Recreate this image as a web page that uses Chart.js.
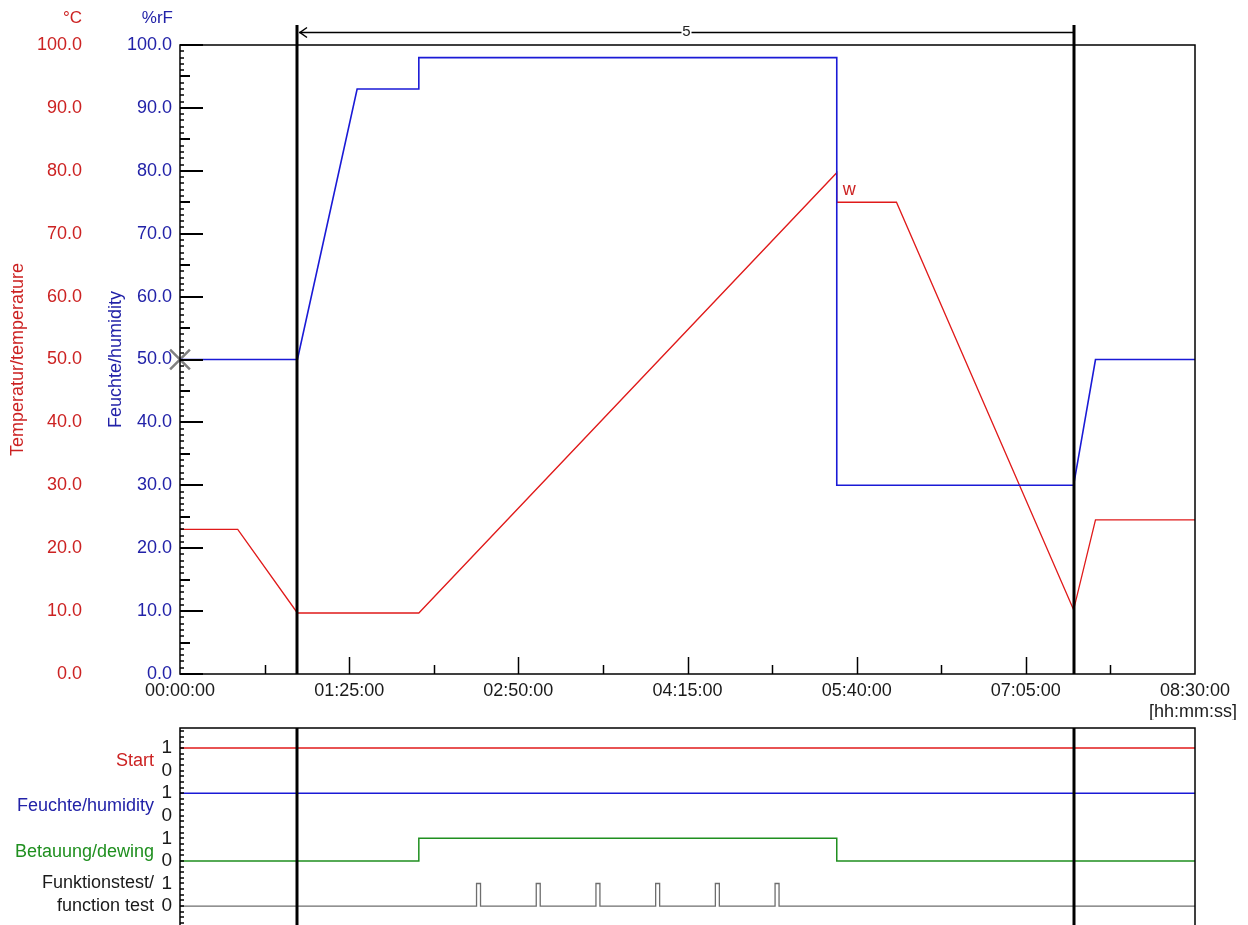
<!DOCTYPE html>
<html>
<head>
<meta charset="utf-8">
<script src="https://cdn.jsdelivr.net/npm/chart.js@4.4.0/dist/chart.umd.min.js"></script>
<style>
  body { margin: 0; background: #fff; }
  #wrap { position: relative; width: 1248px; height: 925px; overflow: hidden; }
  canvas { position: absolute; left: 0; }
  #top { top: 0; }
  #bottom { top: 720px; }
</style>
</head>
<body>
<div id="wrap">
  <canvas id="top" width="1248" height="720"></canvas>
  <canvas id="bottom" width="1248" height="205"></canvas>
</div>
<script>
'use strict';

// time axis, minutes
const T_MAX = 510;
const T_STEP = 85;
const markerTimes = [59, 449];
const spanLabel = '5';

// analog curves
const humTimes  = [0, 59, 89, 120, 120, 330, 330, 449, 460, 510];
const humValues = [50, 50, 93, 93, 98, 98, 30, 30, 50, 50];
const tempTimes  = [0, 29, 59, 120, 330, 330, 360, 449, 460, 510];
const tempValues = [23, 23, 9.7, 9.7, 79.7, 75, 75, 10.2, 24.5, 24.5];
const setpointMark = [{ x: 0, y: 50 }];
const wLabel = { t: 333, v: 77, text: 'w' };

// digital signals (state changes)
const signalNames = ['Start', 'Feuchte/humidity', 'Betauung/dewing', ['Funktionstest/', 'function test']];
const signalLevels = [0, 1, 2, 3, 4, 5, 6, 7];
const startTimes = [0, 510];
const startStates = [1, 1];
const humSigTimes = [0, 510];
const humSigStates = [1, 1];
const dewTimes = [0, 120, 330, 510];
const dewStates = [0, 1, 0, 0];
const testTimes = [0, 149, 151, 179, 181, 209, 211, 239, 241, 269, 271, 299, 301, 510];
const testStates = [0, 1, 0, 1, 0, 1, 0, 1, 0, 1, 0, 1, 0, 0];

const RED = '#e01a1a', RED_TXT = '#cc2222';
const BLUE = '#1a1ad6', BLUE_TXT = '#2222a8';
const GREEN = '#1f8f1f';
const GRAY = '#6e6e6e';
const FONT = '"Liberation Sans", Arial, sans-serif';

Chart.defaults.font.family = FONT;
Chart.defaults.font.size = 18;
Chart.defaults.color = '#1a1a1a';

const pts = (ts, vs) => ts.map((t, i) => ({ x: t, y: vs[i] }));
function stepPts(ts, ss, base) {
  const out = [];
  ts.forEach((t, i) => {
    if (i > 0 && ss[i] !== ss[i - 1]) out.push({ x: t, y: base + ss[i - 1] });
    out.push({ x: t, y: base + ss[i] });
  });
  return out;
}
function hms(m) {
  const h = Math.floor(m / 60), mm = Math.round(m % 60);
  return `${String(h).padStart(2, '0')}:${String(mm).padStart(2, '0')}:00`;
}
function line(ctx, x1, y1, x2, y2) {
  ctx.beginPath(); ctx.moveTo(x1, y1); ctx.lineTo(x2, y2); ctx.stroke();
}
function markerLines(chart, top, bottom) {
  const { ctx, scales: { x } } = chart;
  ctx.strokeStyle = '#000'; ctx.lineWidth = 3;
  markerTimes.forEach((t) => {
    const px = Math.round(x.getPixelForValue(t));
    line(ctx, px, top, px, bottom);
  });
}

const decorTop = {
  id: 'decorTop',
  afterDraw(chart) {
    const { ctx, chartArea: a, scales: { x, y } } = chart;
    ctx.save();
    ctx.strokeStyle = '#000';
    ctx.lineWidth = 1.5;
    ctx.strokeRect(a.left, a.top, a.right - a.left, a.bottom - a.top);

    for (let v = 0; v <= 100; v++) {
      const py = Math.round(y.getPixelForValue(v));
      const len = v % 10 === 0 ? 23 : v % 5 === 0 ? 10 : 4;
      ctx.lineWidth = v % 5 === 0 ? 2 : 1.5;
      line(ctx, a.left, py, a.left + len, py);
    }
    ctx.lineWidth = 1.5;
    for (let m = T_STEP / 2; m < T_MAX; m += T_STEP / 2) {
      const px = Math.round(x.getPixelForValue(m)) + 0.5;
      const len = m % T_STEP === 0 ? 17 : 9;
      line(ctx, px, a.bottom, px, a.bottom - len);
    }

    markerLines(chart, 25, a.bottom);

    // span arrow
    const x1 = Math.round(x.getPixelForValue(markerTimes[0])) + 2;
    const x2 = Math.round(x.getPixelForValue(markerTimes[1]));
    ctx.lineWidth = 1.5;
    line(ctx, x1, 32.5, x2, 32.5);
    ctx.beginPath();
    ctx.moveTo(x1 + 8, 27.5); ctx.lineTo(x1 + 1, 32.5); ctx.lineTo(x1 + 8, 37.5);
    ctx.stroke();
    const xm = (x1 + x2) / 2;
    ctx.font = `15px ${FONT}`;
    ctx.fillStyle = '#fff';
    ctx.fillRect(xm - 5, 25, 10, 15);
    ctx.fillStyle = '#222';
    ctx.textAlign = 'center'; ctx.textBaseline = 'middle';
    ctx.fillText(spanLabel, xm, 32);

    // units
    ctx.font = `17px ${FONT}`;
    ctx.textAlign = 'right';
    ctx.fillStyle = RED_TXT; ctx.fillText('°C', 82, 18);
    ctx.fillStyle = BLUE_TXT; ctx.fillText('%rF', 173, 18);

    // setpoint tag
    ctx.textAlign = 'left';
    ctx.fillStyle = RED_TXT;
    ctx.font = `18px ${FONT}`;
    ctx.fillText(wLabel.text, x.getPixelForValue(wLabel.t), y.getPixelForValue(wLabel.v));

    ctx.fillStyle = '#1a1a1a';
    ctx.textAlign = 'right';
    ctx.fillText('[hh:mm:ss]', 1237, 712);
    ctx.restore();
  }
};

const decorBottom = {
  id: 'decorBottom',
  afterDraw(chart) {
    const { ctx, chartArea: a, scales: { y } } = chart;
    ctx.save();
    ctx.strokeStyle = '#000';
    ctx.lineWidth = 1.5;
    ctx.strokeRect(a.left, a.top, a.right - a.left, a.bottom - a.top + 10);
    for (let v = -0.75; v < y.max; v += 0.25) {
      const py = Math.round(y.getPixelForValue(v));
      line(ctx, a.left, py, a.left + 4, py);
    }
    markerLines(chart, a.top, a.bottom);

    const colors = [RED_TXT, BLUE_TXT, GREEN, '#1a1a1a'];
    ctx.font = `18px ${FONT}`;
    ctx.textAlign = 'right'; ctx.textBaseline = 'middle';
    signalNames.forEach((name, i) => {
      const base = (signalNames.length - 1 - i) * 2;
      ctx.fillStyle = colors[i];
      if (Array.isArray(name)) {
        ctx.fillText(name[0], 154, y.getPixelForValue(base + 1));
        ctx.fillText(name[1], 154, y.getPixelForValue(base));
      } else {
        ctx.fillText(name, 154, y.getPixelForValue(base + 0.5) + 2);
      }
    });
    ctx.restore();
  }
};

new Chart(document.getElementById('top'), {
  type: 'line',
  data: {
    datasets: [
      { data: pts(humTimes, humValues), yAxisID: 'y', borderColor: BLUE, borderWidth: 1.6, pointRadius: 0 },
      { data: pts(tempTimes, tempValues), yAxisID: 'y2', borderColor: RED, borderWidth: 1.3, pointRadius: 0 },
      { data: setpointMark, yAxisID: 'y', showLine: false, pointStyle: 'crossRot', pointRadius: 14,
        borderColor: '#808080', borderWidth: 2.5, clip: false }
    ]
  },
  options: {
    responsive: false, animation: false, devicePixelRatio: 1,
    layout: { padding: { top: 45, right: 53, left: 0, bottom: 0 } },
    plugins: { legend: { display: false }, tooltip: { enabled: false } },
    scales: {
      x: {
        type: 'linear', min: 0, max: T_MAX,
        ticks: { stepSize: T_STEP, padding: 6, color: '#1a1a1a', maxRotation: 0, callback: (v) => hms(v) },
        grid: { display: false, drawTicks: false }, border: { display: false },
        afterFit: (s) => { s.height = 46; }
      },
      y: {
        position: 'left', weight: 0, min: 0, max: 100,
        ticks: { stepSize: 10, padding: 8, color: BLUE_TXT, callback: (v) => v.toFixed(1) },
        grid: { display: false, drawTicks: false }, border: { display: false },
        title: { display: true, text: 'Feuchte/humidity', color: BLUE_TXT, padding: { top: 17, bottom: 0 } },
        afterFit: (s) => { s.width = 92; }
      },
      y2: {
        position: 'left', weight: 1, min: 0, max: 100,
        ticks: { stepSize: 10, padding: 6, color: RED_TXT, callback: (v) => v.toFixed(1) },
        grid: { display: false, drawTicks: false }, border: { display: false },
        title: { display: true, text: 'Temperatur/temperature', color: RED_TXT, padding: { top: 7, bottom: 0 } },
        afterFit: (s) => { s.width = 88; }
      }
    }
  },
  plugins: [decorTop]
});

new Chart(document.getElementById('bottom'), {
  type: 'line',
  data: {
    datasets: [
      { data: stepPts(startTimes, startStates, 6), borderColor: RED, borderWidth: 1.5, pointRadius: 0 },
      { data: stepPts(humSigTimes, humSigStates, 4), borderColor: BLUE, borderWidth: 1.5, pointRadius: 0 },
      { data: stepPts(dewTimes, dewStates, 2), borderColor: GREEN, borderWidth: 1.5, pointRadius: 0 },
      { data: stepPts(testTimes, testStates, 0), borderColor: GRAY, borderWidth: 1.3, pointRadius: 0 }
    ]
  },
  options: {
    responsive: false, animation: false, devicePixelRatio: 1,
    layout: { padding: { top: 8, right: 53, left: 0, bottom: 0 } },
    plugins: { legend: { display: false }, tooltip: { enabled: false } },
    scales: {
      x: { type: 'linear', min: 0, max: T_MAX, display: false },
      y: {
        position: 'left', min: -0.84, max: 7.89,
        afterBuildTicks: (s) => { s.ticks = signalLevels.map((v) => ({ value: v })); },
        ticks: { padding: 8, autoSkip: false, color: '#1a1a1a', font: { size: 19 }, callback: (v) => String(v % 2) },
        grid: { display: false, drawTicks: false }, border: { display: false },
        afterFit: (s) => { s.width = 180; s.paddingTop = 0; s.paddingBottom = 0; }
      }
    }
  },
  plugins: [decorBottom]
});
</script>
</body>
</html>
